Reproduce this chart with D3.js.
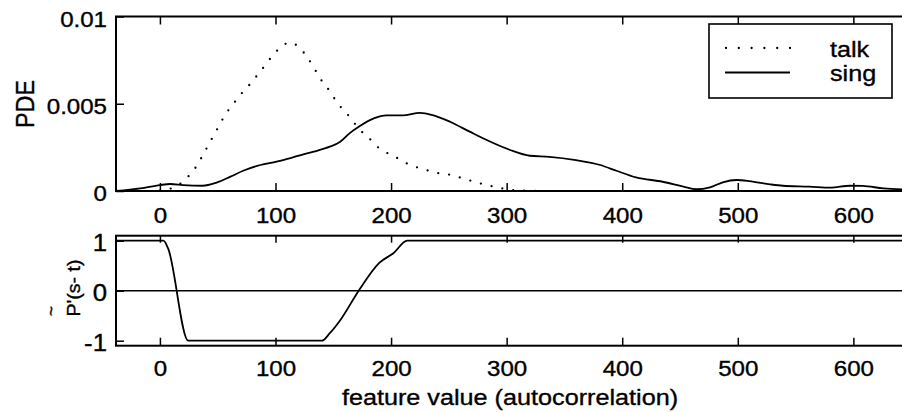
<!DOCTYPE html>
<html>
<head>
<meta charset="utf-8">
<script src="https://cdn.jsdelivr.net/npm/d3@7"></script>
<style>
body { margin: 0; background: #fff; }
text { font-family: "Liberation Sans", Arial, Helvetica, sans-serif; fill: #000; stroke: #000; stroke-width: 0.35px; }
</style>
</head>
<body>
<div id="chart"></div>
<script>
// tick values
var xTicks = [0, 100, 200, 300, 400, 500, 600];
var pdeTicks = [0, 0.005, 0.01];
var pTicks = [-1, 0, 1];

// talk (dotted) density
var talkX = [0, 6, 15, 23, 30, 35, 40, 45, 50, 55, 60, 66, 72, 79, 85, 91, 98, 104, 112, 121,
  127, 133, 138, 144, 149, 154, 161, 167, 173, 180, 187, 196, 205, 213, 225, 234, 242, 248, 257, 267,
  277, 286, 296, 304, 314, 325];
var talkY = [0.00002, 0.00008, 0.0003, 0.00073, 0.00126, 0.0018, 0.0024, 0.0030, 0.0036, 0.0042,
  0.0047, 0.0052, 0.0057, 0.0062, 0.0067, 0.0072, 0.0078, 0.0082, 0.0085, 0.0082,
  0.0077, 0.0071, 0.0065, 0.0060, 0.0055, 0.0050, 0.0045, 0.0040, 0.0035, 0.0031,
  0.0026, 0.0022, 0.0019, 0.0016, 0.0013, 0.00114, 0.00101, 0.00097, 0.00082, 0.00063,
  0.00044, 0.00029, 0.00015, 0.00006, 0.00002, 0];

// sing (solid) density
var singX = [-38, -17, 0, 9, 20, 37, 49, 61, 72, 87, 101, 115, 133, 147, 156, 164, 173, 185, 196, 210,
  225, 236, 251, 268, 286, 303, 320, 337, 360, 381, 395, 412, 435, 453, 464, 476, 487, 499, 510, 528,
  539, 562, 580, 597, 608, 626, 649];
var singY = [0, 0.00015, 0.00034, 0.0004, 0.00034, 0.0003, 0.00048, 0.00082, 0.00116, 0.00149,
  0.00168, 0.00193, 0.00225, 0.00254, 0.00282, 0.0033, 0.00372, 0.00416, 0.00433, 0.00433,
  0.00448, 0.00435, 0.00397, 0.0034, 0.00282, 0.00235, 0.00202, 0.00196, 0.00177, 0.00149,
  0.00116, 0.00078, 0.00053, 0.00025, 0.0001, 0.00021, 0.0005, 0.00063, 0.00057, 0.00038,
  0.0003, 0.00025, 0.00019, 0.0003, 0.00029, 0.00015, 0.00008];

// P'(s-t) decision curve
var pX = [-38, 3, 7, 24.5, 140, 147, 156, 172, 190, 202, 214, 649];
var pY = [1, 1, 0.85, -1, -1, -0.85, -0.59, 0, 0.56, 0.75, 1, 1];
var zeroX = [-38, 649];
var zeroY = [0, 0];

var width = 902, height = 412;

var svg = d3.select("#chart")
    .append("svg")
    .attr("width", width)
    .attr("height", height);

var x = d3.scaleLinear().domain([-38, 649]).range([116, 910]);
var yTop = d3.scaleLinear().domain([0, 0.01]).range([191, 16.5]);
var yBot = d3.scaleLinear().domain([-1.1, 1.1]).range([345.7, 235.7]);

function zip(a, b) {
    return a.map(function(v, i) { return [v, b[i]]; });
}

// clip paths
var defs = svg.append("defs");
defs.append("clipPath").attr("id", "clipTop").append("rect")
    .attr("x", 116).attr("y", 16.5).attr("width", 794).attr("height", 174.5);
defs.append("clipPath").attr("id", "clipBot").append("rect")
    .attr("x", 116).attr("y", 235.7).attr("width", 794).attr("height", 110);

function styleAxis(g, size) {
    g.select(".domain").remove();
    g.selectAll(".tick line").attr("stroke", "#000").attr("stroke-width", 1.5);
    g.selectAll("text").attr("class", "stretch").style("font-size", size + "px");
}

// ---- top panel ----
var lineTop = d3.line()
    .x(function(d) { return x(d[0]); })
    .y(function(d) { return yTop(d[1]); })
    .curve(d3.curveMonotoneX);

var topPanel = svg.append("g").attr("clip-path", "url(#clipTop)");

topPanel.append("path")
    .datum(zip(talkX, talkY))
    .attr("d", lineTop)
    .attr("fill", "none")
    .attr("stroke", "#000")
    .attr("stroke-width", 2.3)
    .attr("stroke-linecap", "round")
    .attr("stroke-dasharray", "0 11");

topPanel.append("path")
    .datum(zip(singX, singY))
    .attr("d", lineTop)
    .attr("fill", "none")
    .attr("stroke", "#000")
    .attr("stroke-width", 1.8);

svg.append("g")
    .attr("transform", "translate(0,191)")
    .call(d3.axisBottom(x).tickValues(xTicks).tickSizeInner(-8).tickSizeOuter(0).tickPadding(17))
    .call(styleAxis, 21.5);

svg.append("g")
    .attr("transform", "translate(0,16.5)")
    .call(d3.axisTop(x).tickValues(xTicks).tickSizeInner(-8).tickSizeOuter(0).tickFormat(""))
    .call(styleAxis, 21.5);

svg.append("g")
    .attr("transform", "translate(116,0)")
    .call(d3.axisLeft(yTop).tickValues(pdeTicks).tickSizeInner(-8).tickSizeOuter(0).tickPadding(9)
        .tickFormat(d3.format("~g")))
    .call(styleAxis, 21.5)
    .selectAll("text").attr("dy", "0.45em");

svg.append("rect")
    .attr("x", 116).attr("y", 16.5).attr("width", 794).attr("height", 174.5)
    .attr("fill", "none").attr("stroke", "#000").attr("stroke-width", 2);

// legend
var legend = svg.append("g");
legend.append("rect")
    .attr("x", 709).attr("y", 24).attr("width", 183).attr("height", 74)
    .attr("fill", "#fff").attr("stroke", "#000").attr("stroke-width", 1.6);
legend.append("line")
    .attr("x1", 726).attr("x2", 790).attr("y1", 48).attr("y2", 48)
    .attr("stroke", "#000").attr("stroke-width", 2.3)
    .attr("stroke-linecap", "round").attr("stroke-dasharray", "0 12.8");
legend.append("line")
    .attr("x1", 725).attr("x2", 790).attr("y1", 72.5).attr("y2", 72.5)
    .attr("stroke", "#000").attr("stroke-width", 1.8);
legend.append("text").attr("class", "stretch")
    .attr("x", 830).attr("y", 57).style("font-size", "22.5px").text("talk");
legend.append("text").attr("class", "stretch")
    .attr("x", 830).attr("y", 81).style("font-size", "22.5px").text("sing");

svg.append("text")
    .attr("transform", "translate(33.5,104) rotate(-90)")
    .attr("text-anchor", "middle")
    .attr("textLength", 48).attr("lengthAdjust", "spacingAndGlyphs")
    .style("font-size", "25px")
    .text("PDE");

// ---- bottom panel ----
var lineBot = d3.line()
    .x(function(d) { return x(d[0]); })
    .y(function(d) { return yBot(d[1]); })
    .curve(d3.curveMonotoneX);

var botPanel = svg.append("g").attr("clip-path", "url(#clipBot)");

botPanel.append("path")
    .datum(zip(zeroX, zeroY))
    .attr("d", lineBot)
    .attr("fill", "none")
    .attr("stroke", "#000")
    .attr("stroke-width", 1.6);

botPanel.append("path")
    .datum(zip(pX, pY))
    .attr("d", lineBot)
    .attr("fill", "none")
    .attr("stroke", "#000")
    .attr("stroke-width", 1.8);

svg.append("g")
    .attr("transform", "translate(0,345.7)")
    .call(d3.axisBottom(x).tickValues(xTicks).tickSizeInner(-8).tickSizeOuter(0).tickPadding(15.5))
    .call(styleAxis, 21.5);

svg.append("g")
    .attr("transform", "translate(0,235.7)")
    .call(d3.axisTop(x).tickValues(xTicks).tickSizeInner(-7).tickSizeOuter(0).tickFormat(""))
    .call(styleAxis, 21.5);

svg.append("g")
    .attr("transform", "translate(116,0)")
    .call(d3.axisLeft(yBot).tickValues(pTicks).tickSizeInner(-8).tickSizeOuter(0).tickPadding(9)
        .tickFormat(function(d) { return String(d); }))
    .call(styleAxis, 23)
    .selectAll("text").attr("dy", "0.42em");

svg.append("rect")
    .attr("x", 116).attr("y", 235.7).attr("width", 794).attr("height", 110)
    .attr("fill", "none").attr("stroke", "#000").attr("stroke-width", 2);

svg.append("text")
    .attr("transform", "translate(80,288) rotate(-90)")
    .attr("text-anchor", "middle")
    .attr("textLength", 57).attr("lengthAdjust", "spacingAndGlyphs")
    .style("font-size", "17.5px")
    .text("P'(s- t)");

svg.append("text")
    .attr("transform", "translate(57,311) rotate(-90)")
    .attr("text-anchor", "middle")
    .style("font-size", "17px")
    .text("~");

svg.append("text")
    .attr("class", "stretch")
    .attr("x", 510).attr("y", 405)
    .attr("text-anchor", "middle")
    .style("font-size", "22.5px")
    .text("feature value (autocorrelation)");

// the scan is a bit wider than tall, so widen the upright text
svg.selectAll("text.stretch").each(function() {
    var len = this.getComputedTextLength();
    d3.select(this).attr("textLength", len * 1.12).attr("lengthAdjust", "spacingAndGlyphs");
});
</script>
</body>
</html>
